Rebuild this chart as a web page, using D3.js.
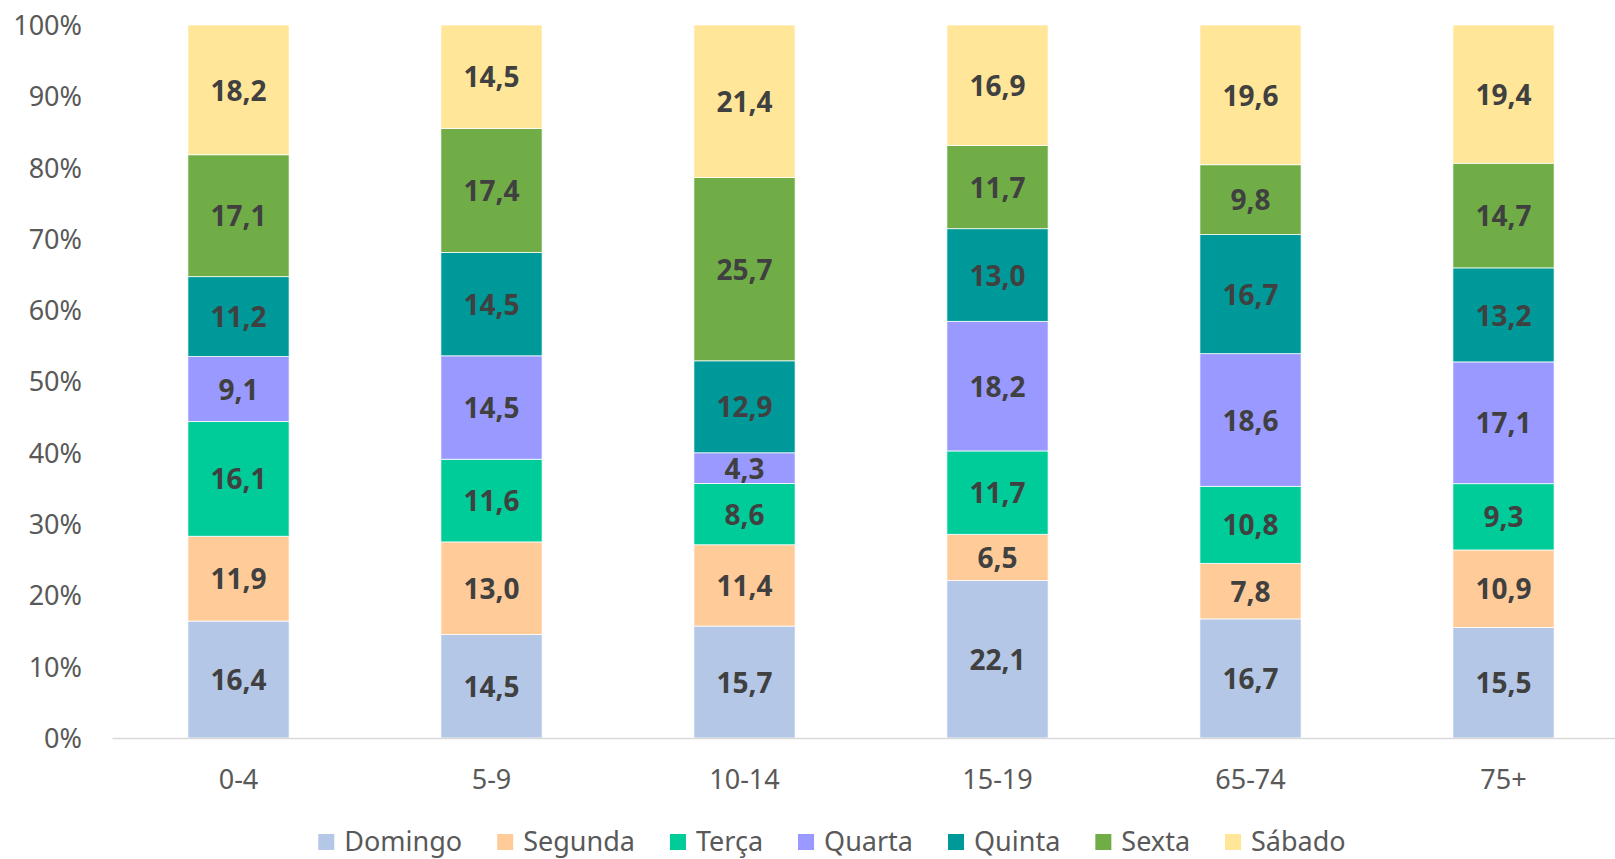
<!DOCTYPE html>
<html>
<head>
    <meta charset="utf-8">
    <title>Dia da semana por grupo etário</title>
    <script src="https://d3js.org/d3.v7.min.js"></script>
    <style type="text/css">
        body { margin: 0; background: #fff; }
        text { font-family: "Noto Sans", "Open Sans", sans-serif; }
        .tick text { fill: #595959; font-size: 27px; }
        .lbl { fill: #404040; font-size: 28px; font-weight: bold; }
    </style>
</head>
<body>
<script type="text/javascript">
    // categories and series
    const groups = ["0-4", "5-9", "10-14", "15-19", "65-74", "75+"];
    const days = ["Domingo", "Segunda", "Terça", "Quarta", "Quinta", "Sexta", "Sábado"];
    const colors = ["#B4C7E7", "#FFCC99", "#00CC99", "#9999FF", "#009999", "#70AD47", "#FFE699"];

    // values per day, one entry per age group
    const domingo = [16.4, 14.5, 15.7, 22.1, 16.7, 15.5];
    const segunda = [11.9, 13.0, 11.4, 6.5, 7.8, 10.9];
    const terca   = [16.1, 11.6, 8.6, 11.7, 10.8, 9.3];
    const quarta  = [9.1, 14.5, 4.3, 18.2, 18.6, 17.1];
    const quinta  = [11.2, 14.5, 12.9, 13.0, 16.7, 13.2];
    const sexta   = [17.1, 17.4, 25.7, 11.7, 9.8, 14.7];
    const sabado  = [18.2, 14.5, 21.4, 16.9, 19.6, 19.4];
    const yTicks = [0, 0.1, 0.2, 0.3, 0.4, 0.5, 0.6, 0.7, 0.8, 0.9, 1];

    const series = [domingo, segunda, terca, quarta, quinta, sexta, sabado];
    const rows = groups.map((g, i) => {
        let r = { group: g };
        days.forEach((d, j) => r[d] = series[j][i]);
        return r;
    });

    let width = 1615, height = 859;
    let svg = d3.select("body").append("svg")
        .attr("width", width)
        .attr("height", height);

    let x = d3.scaleBand().domain(groups).range([112, 1630])
        .paddingInner(0.6).paddingOuter(0.3);
    let y = d3.scaleLinear().domain([0, 1]).range([738, 25]);

    let stack = d3.stack().keys(days).offset(d3.stackOffsetExpand);
    let layers = stack(rows);

    // y axis labels only
    let yAxis = svg.append("g")
        .attr("transform", "translate(82,0)")
        .call(d3.axisLeft(y).tickValues(yTicks).tickSize(0).tickPadding(0)
            .tickFormat(d3.format(".0%")));
    yAxis.select(".domain").remove();
    yAxis.selectAll("text").attr("dy", "0.35em");

    // bars
    let layerG = svg.selectAll(".layer")
        .data(layers)
        .join("g")
        .attr("class", "layer")
        .attr("fill", (d, i) => colors[i]);

    layerG.selectAll("rect")
        .data(d => d)
        .join("rect")
        .attr("x", d => x(d.data.group))
        .attr("y", d => y(d[1]))
        .attr("width", x.bandwidth())
        .attr("height", d => y(d[0]) - y(d[1]))
        .style("stroke", "#fff")
        .style("stroke-width", 0.75);

    // value labels
    layerG.each(function(layer) {
        d3.select(this).selectAll("text")
            .data(layer)
            .join("text")
            .attr("class", "lbl")
            .attr("x", d => x(d.data.group) + x.bandwidth() / 2)
            .attr("y", d => (y(d[0]) + y(d[1])) / 2)
            .attr("dy", "0.38em")
            .attr("text-anchor", "middle")
            .text(d => d.data[layer.key].toFixed(1).replace(".", ","));
    });

    // x axis
    let xAxis = svg.append("g")
        .attr("transform", "translate(0,738)")
        .call(d3.axisBottom(x).tickSize(0).tickPadding(32));
    xAxis.select(".domain").style("stroke", "#D9D9D9").style("stroke-width", 1.5);
    xAxis.selectAll("text").attr("dy", "0.71em");

    // legend
    let legend = svg.append("g").attr("class", "legend");
    let cx = 0;
    days.forEach((d, i) => {
        let item = legend.append("g").attr("transform", "translate(" + cx + ",0)");
        item.append("rect")
            .attr("x", 0).attr("y", -8)
            .attr("width", 16).attr("height", 16)
            .attr("fill", colors[i]);
        let t = item.append("text")
            .attr("x", 26).attr("dy", "0.35em")
            .style("fill", "#595959").style("font-size", "27px")
            .text(d);
        cx += 26 + t.node().getComputedTextLength() + 35;
    });
    let legW = cx - 35;
    legend.attr("transform", "translate(" + (832 - legW / 2) + ",842)");
</script>
</body>
</html>
